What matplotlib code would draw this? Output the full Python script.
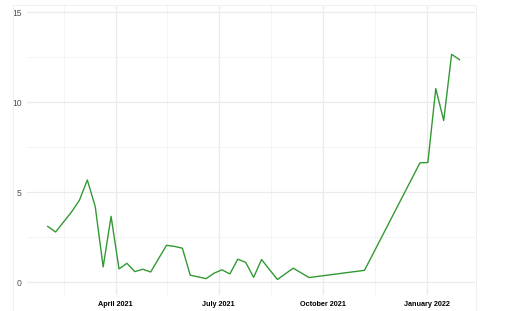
import numpy as np
import pandas as pd
import matplotlib
matplotlib.use("Agg")
import matplotlib.pyplot as plt
from matplotlib.patches import Rectangle

# weekly values
dates = [
    "2021-01-31", "2021-02-07", "2021-02-21", "2021-02-28", "2021-03-07",
    "2021-03-14", "2021-03-21", "2021-03-28", "2021-04-04", "2021-04-11",
    "2021-04-18", "2021-04-25", "2021-05-02", "2021-05-16", "2021-05-23",
    "2021-05-30", "2021-06-06", "2021-06-20", "2021-06-27", "2021-07-04",
    "2021-07-11", "2021-07-18", "2021-07-25", "2021-08-01", "2021-08-08",
    "2021-08-22", "2021-09-05", "2021-09-19", "2021-11-07", "2021-12-26",
    "2022-01-02", "2022-01-09", "2022-01-16", "2022-01-23", "2022-01-30",
]
values = [
    3.10, 2.79, 3.90, 4.55, 5.68,
    4.20, 0.85, 3.66, 0.74, 1.05,
    0.59, 0.72, 0.57, 2.05, 1.99,
    1.89, 0.39, 0.20, 0.50, 0.69,
    0.46, 1.28, 1.10, 0.27, 1.26,
    0.15, 0.78, 0.26, 0.66, 6.63,
    6.65, 10.76, 8.98, 12.66, 12.36,
]
major_ticks = ["2021-04-01", "2021-07-01", "2021-10-01", "2022-01-01"]
major_labels = ["April 2021", "July 2021", "October 2021", "January 2022"]
minor_ticks = ["2021-02-14", "2021-05-16", "2021-08-16", "2021-11-16"]
y_ticks = [0, 5, 10, 15]
y_minor = [2.5, 7.5, 12.5]

plt.rcParams["font.family"] = ["Liberation Sans", "DejaVu Sans"]

x = pd.to_datetime(dates)

fig = plt.figure(figsize=(5.05, 3.11), dpi=100)
W, H = 505, 311
ax = fig.add_axes([26.7 / W, 1 - 295 / H, (475 - 26.7) / W, (295 - 5) / H])

# faint outer frame
fig.patches.append(Rectangle((13 / W, -0.01), (476 - 13) / W, 1 - 5 / H + 0.01,
                             transform=fig.transFigure, fill=False,
                             edgecolor="#f0f0f0", linewidth=0.8))

ax.plot(x, values, color="#339933", linewidth=1.0)

ax.set_xlim(pd.Timestamp("2021-01-12 10:00"), pd.Timestamp("2022-02-12 16:00"))
ax.set_ylim(-0.71, 15.4)

ax.set_xticks(pd.to_datetime(major_ticks))
ax.set_xticklabels(major_labels, fontsize=5.2, fontweight="bold", color="black")
ax.set_xticks(pd.to_datetime(minor_ticks), minor=True)
ax.set_yticks(y_ticks)
ax.set_yticklabels([str(v) for v in y_ticks], fontsize=6.2, color="#4d4d4d")
ax.set_yticks(y_minor, minor=True)

ax.grid(which="major", color="#ebebeb", linewidth=0.9)
ax.grid(which="minor", color="#f2f2f2", linewidth=0.6)
ax.set_axisbelow(True)
ax.tick_params(which="both", length=0)
ax.tick_params(axis="x", pad=4)
ax.tick_params(axis="y", pad=3.5)
for s in ax.spines.values():
    s.set_visible(False)

fig.savefig("out.png", dpi=100)
